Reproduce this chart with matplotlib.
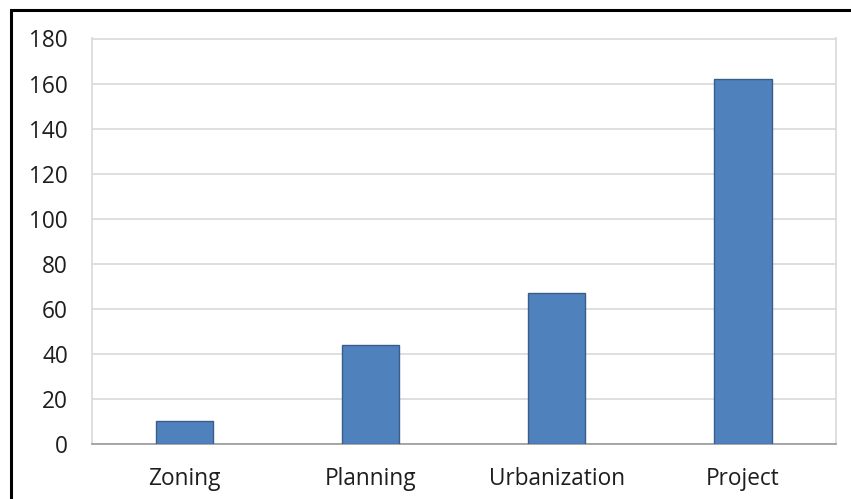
import matplotlib
matplotlib.use("Agg")
import matplotlib.pyplot as plt
from matplotlib.patches import Rectangle

categories = ["Zoning", "Planning", "Urbanization", "Project"]
values = [10, 44, 67, 162]
yticks = [0, 20, 40, 60, 80, 100, 120, 140, 160, 180]

W, H = 851, 499
fig = plt.figure(figsize=(W / 100, H / 100), dpi=100)
fig.patch.set_facecolor("white")
ax = fig.add_axes([91.5 / W, 1 - 443.7 / H, (835.7 - 91.5) / W, (443.7 - 38.5) / H])

x = list(range(len(categories)))
ax.bar(x, values, width=0.31, color="#4f81bd", edgecolor="#385d8a", linewidth=1.0, zorder=3)
ax.set_xlim(-0.5, len(categories) - 0.5)
ax.set_ylim(0, 180)
ax.set_yticks(yticks)
ax.set_xticks(x)
ax.set_xticklabels(categories)
ax.yaxis.grid(True, color="#d9d9d9", linewidth=1.2, zorder=0)
ax.set_axisbelow(True)

for s in ["top", "right", "left"]:
    ax.spines[s].set_color("#d9d9d9")
    ax.spines[s].set_linewidth(1.2)
ax.spines["bottom"].set_color("#9a9a9a")
ax.spines["bottom"].set_linewidth(1.2)

ax.tick_params(axis="both", length=0, labelsize=16.3, labelcolor="#1e1e1e")
ax.tick_params(axis="y", pad=17)
ax.tick_params(axis="x", pad=17)
for lab in ax.get_xticklabels() + ax.get_yticklabels():
    lab.set_fontfamily("Open Sans")

# outer black frame (left and top visible)
fig.add_artist(Rectangle((11.3 / W, -0.05), 1.1, 1 - 9.6 / H + 0.05, transform=fig.transFigure,
                         fill=False, edgecolor="black", linewidth=2.2))

fig.savefig("out.png", dpi=100)
